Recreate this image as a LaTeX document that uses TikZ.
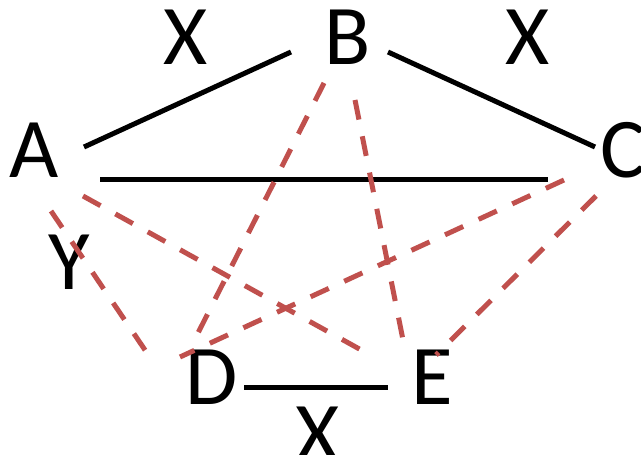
\documentclass[tikz,border=0pt]{standalone}
\usepackage{fontspec}
\setmainfont{Carlito}
\definecolor{dred}{RGB}{192,80,77}
\begin{document}
\begin{tikzpicture}[x=1pt,y=1pt,
  lbl/.style={inner sep=0pt,font=\fontsize{85}{90}\selectfont},
  solidedge/.style={line width=5pt,black},
  dashedge/.style={line width=5pt,dred,dash pattern=on 20pt off 17pt}]
\useasboundingbox (0,0) rectangle (641,455);
% letters
\node[lbl] (A) at (34,305) {A};
\node[lbl] (B) at (348,418) {B};
\node[lbl] (C) at (623,305) {C};
\node[lbl] (D) at (212,78) {D};
\node[lbl] (E) at (432,78) {E};
\node[lbl] (x1) at (186,418) {X};
\node[lbl] (x2) at (528,418) {X};
\node[lbl] (y1) at (69,193) {Y};
\node[lbl] (x3) at (318,21) {X};
% endpoints
\coordinate (ab1) at (84,308);
\coordinate (ab2) at (291,403);
\coordinate (bc1) at (388,403);
\coordinate (bc2) at (595,308);
\coordinate (ac1) at (100,275);
\coordinate (ac2) at (548,275);
\coordinate (de1) at (244,67);
\coordinate (de2) at (388,67);
\coordinate (ad1) at (51,244);
\coordinate (ad2) at (147,102);
\coordinate (ae1) at (83,259);
\coordinate (ae2) at (363,104);
\coordinate (bd1) at (324,372);
\coordinate (bd2) at (196,118);
\coordinate (be1) at (355,355);
\coordinate (be2) at (403,115);
\coordinate (cd1) at (564,275);
\coordinate (cd2) at (180,98);
\coordinate (ce1) at (596,259);
\coordinate (ce2) at (436,100);
% solid edges
\draw[solidedge] (ab1) -- (ab2);
\draw[solidedge] (bc1) -- (bc2);
\draw[solidedge] (ac1) -- (ac2);
\draw[solidedge] (de1) -- (de2);
% dashed edges
\draw[dashedge] (ad1) -- (ad2);
\draw[dashedge] (ae1) -- (ae2);
\draw[dashedge] (bd1) -- (bd2);
\draw[dashedge] (be1) -- (be2);
\draw[dashedge] (cd1) -- (cd2);
\draw[dashedge] (ce1) -- (ce2);
\end{tikzpicture}
\end{document}
